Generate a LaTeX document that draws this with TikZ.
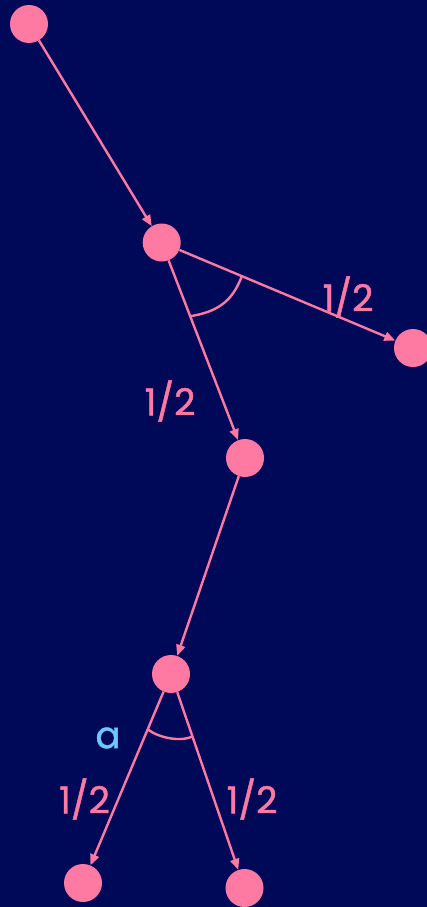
\documentclass[tikz,border=0pt]{standalone}
\usepackage{fontspec}
\setmainfont{Poppins}
\newfontfamily\lblfont{Poppins}[FakeBold=1.2]
\usetikzlibrary{calc,arrows.meta}
\definecolor{bgblue}{RGB}{0,9,88}
\definecolor{pinkish}{RGB}{255,122,163}
\definecolor{skyblue}{RGB}{110,200,255}

\begin{document}
\begin{tikzpicture}[x=1pt, y=-1pt,
  dot/.style={circle, fill=pinkish, minimum size=38pt, inner sep=0pt},
  edge/.style={draw=pinkish, line width=2.4pt, -{Triangle[length=11pt,width=9pt]}},
  anglemark/.style={draw=pinkish, line width=2.4pt},
  prob/.style={text=pinkish, font=\lblfont\fontsize{37}{39}\selectfont},
  anglelbl/.style={text=skyblue, font=\lblfont\fontsize{37}{39}\selectfont}]

  % background
  \fill[bgblue] (0,0) rectangle (427,907);
  \useasboundingbox (0,0) rectangle (427,907);

  % nodes of the tree
  \node[dot] (a) at (29,24) {};
  \node[dot] (b) at (161.7,242.5) {};
  \node[dot] (c) at (413,348) {};
  \node[dot] (d) at (245,458) {};
  \node[dot] (e) at (171,674) {};
  \node[dot] (f) at (83,883) {};
  \node[dot] (g) at (244.5,888) {};

  % arrows
  \draw[edge] (a) -- (b);
  \draw[edge] (b) -- (c);
  \draw[edge] (b) -- (d);
  \draw[edge] (d) -- (e);
  \draw[edge] (e) -- (f);
  \draw[edge] (e) -- (g);

  % angle marks
  \coordinate (bc) at ($(b)!87pt!(c)$);
  \coordinate (bd) at ($(b)!79pt!(d)$);
  \draw[anglemark] (bc) .. controls ++(-8,20) and ++(33,-5) .. (bd);
  \coordinate (ef) at ($(e)!60pt!(f)$);
  \coordinate (eg) at ($(e)!66pt!(g)$);
  \draw[anglemark] (ef) .. controls ++(10,8) and ++(-13,6) .. (eg);

  % labels
  \node[prob] (pbc) at (348,297) {1/2};
  \node[prob] (pbd) at (170,401) {1/2};
  \node[prob] (pef) at (84.5,799) {1/2};
  \node[prob] (peg) at (252,799) {1/2};
  \node[anglelbl] (alpha) at (108,738) {a};
\end{tikzpicture}
\end{document}
